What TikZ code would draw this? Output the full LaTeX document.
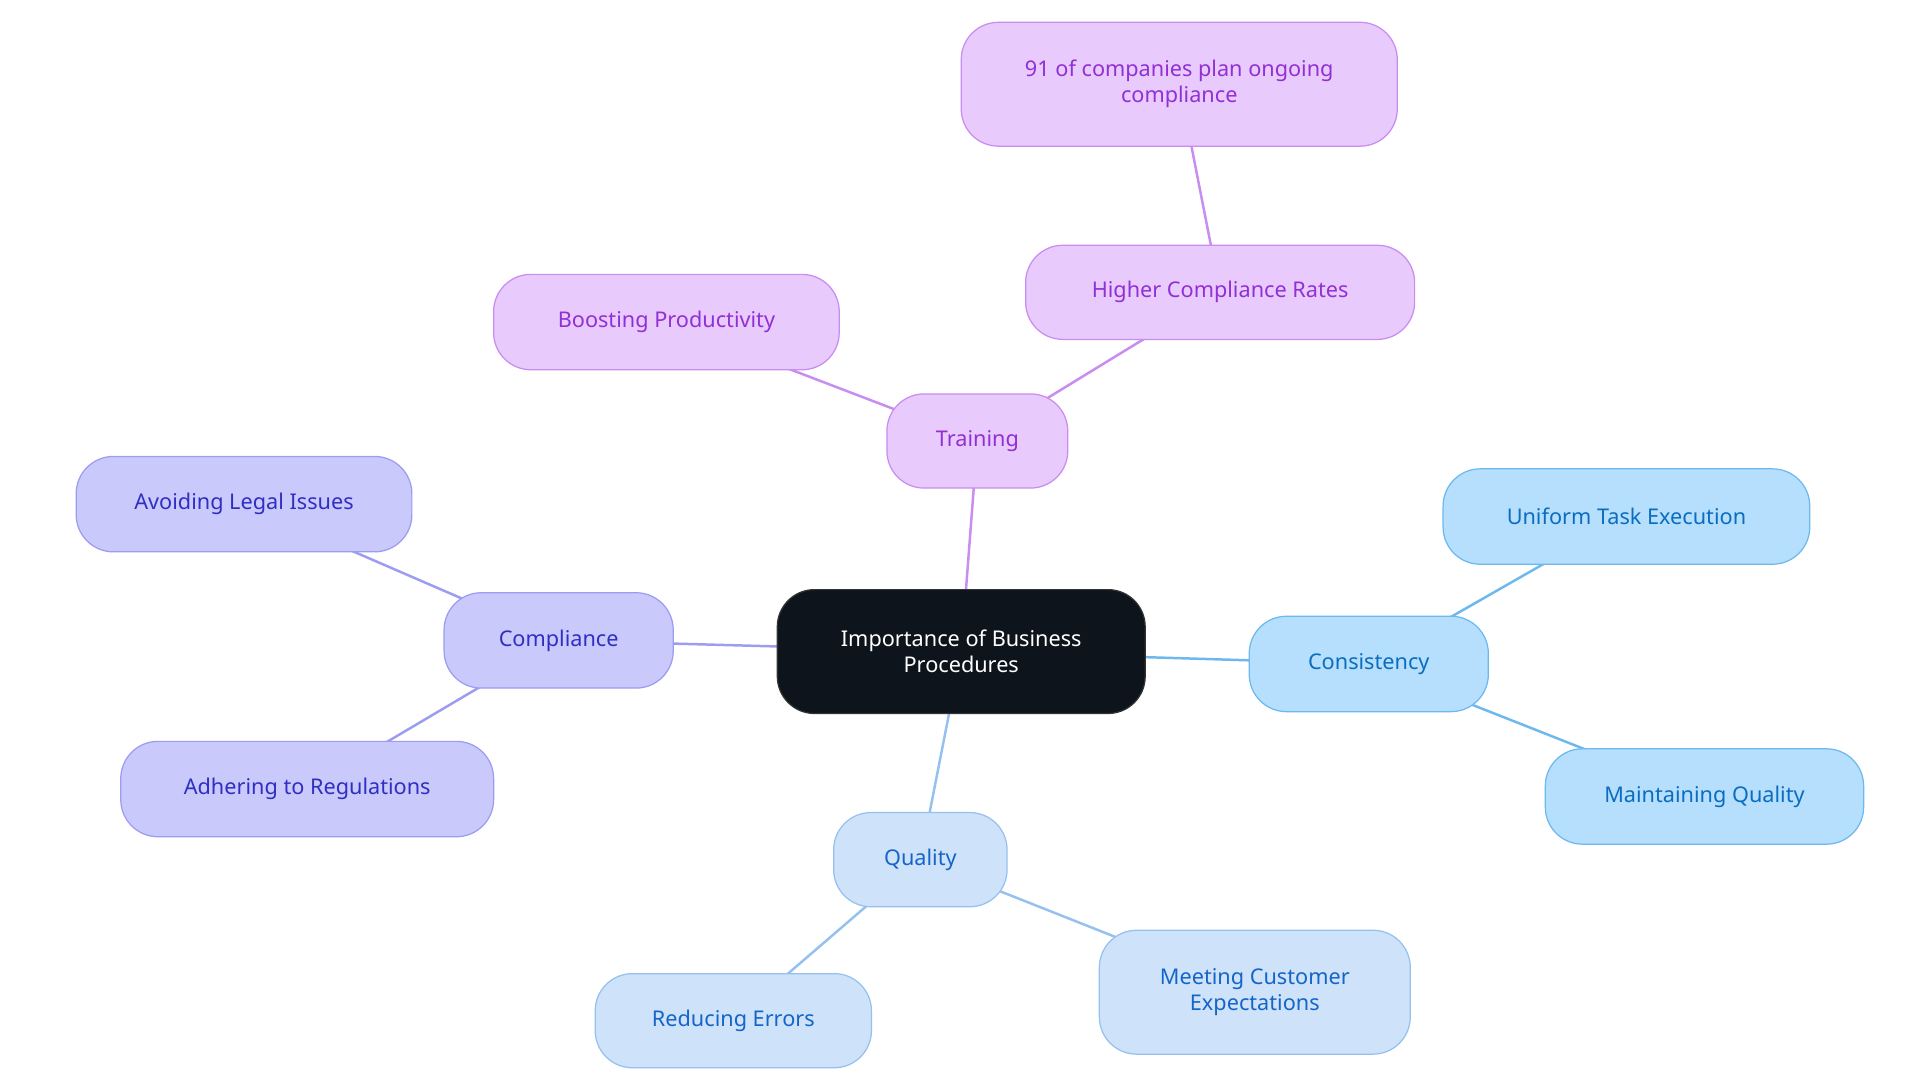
\documentclass[tikz,border=0pt]{standalone}
\usepackage{fontspec}
\setmainfont{Noto Sans}
\usetikzlibrary{backgrounds}
\definecolor{pf}{HTML}{E8CAFD}\definecolor{ps}{HTML}{C98CF0}\definecolor{pt}{HTML}{9130D4}
\definecolor{cf}{HTML}{C9C9FC}\definecolor{cs}{HTML}{9C9CF0}\definecolor{ct}{HTML}{2F2FC4}
\definecolor{sf}{HTML}{B5DFFD}\definecolor{ss}{HTML}{6DB9EE}\definecolor{st}{HTML}{0B6DBF}
\definecolor{qf}{HTML}{CEE2FA}\definecolor{qs}{HTML}{96C1EE}\definecolor{qt}{HTML}{1565C8}
\definecolor{mf}{HTML}{0D141C}
\begin{document}
\begin{tikzpicture}[x=1pt,y=-1pt,
 box/.style={rounded corners=30pt,align=center,font=\fontsize{17.5}{21}\selectfont,inner sep=0pt,line width=1pt},
 P/.style={box,fill=pf,draw=ps,text=pt},
 C/.style={box,fill=cf,draw=cs,text=ct},
 S/.style={box,fill=sf,draw=ss,text=st},
 Q/.style={box,fill=qf,draw=qs,text=qt},
 e/.style={line width=2pt}]
\useasboundingbox (0,0) rectangle (1550,874);
\node[box,fill=mf,draw=black!80,text=white,minimum width=297pt,minimum height=100pt] (m) at (776,526) {Importance of Business\\Procedures};
\node[P,minimum width=146pt,minimum height=76pt] (t) at (789,356) {Training};
\node[P,minimum width=279pt,minimum height=77pt] (bp) at (538,260) {Boosting Productivity};
\node[P,minimum width=314pt,minimum height=76pt] (hc) at (985,236) {Higher Compliance Rates};
\node[P,minimum width=352pt,minimum height=100pt] (n91) at (952,68) {91 of companies plan ongoing\\compliance};
\node[C,minimum width=185pt,minimum height=77pt] (c) at (451,517) {Compliance};
\node[C,minimum width=271pt,minimum height=77pt] (al) at (197,407) {Avoiding Legal Issues};
\node[C,minimum width=301pt,minimum height=77pt] (ar) at (248,637) {Adhering to Regulations};
\node[S,minimum width=193pt,minimum height=77pt] (s) at (1105,536) {Consistency};
\node[S,minimum width=296pt,minimum height=77pt] (u) at (1313,417) {Uniform Task Execution};
\node[S,minimum width=257pt,minimum height=77pt] (mq) at (1376,643) {Maintaining Quality};
\node[Q,minimum width=140pt,minimum height=76pt] (q) at (743,694) {Quality};
\node[Q,minimum width=223pt,minimum height=76pt] (re) at (592,824) {Reducing Errors};
\node[Q,minimum width=251pt,minimum height=100pt] (mc) at (1013,801) {Meeting Customer\\Expectations};
\begin{scope}[on background layer]
\draw[e,ps] (m.center)--(t.center) (t.center)--(bp.center) (t.center)--(hc.center) (hc.center)--(n91.center);
\draw[e,cs] (m.center)--(c.center) (c.center)--(al.center) (c.center)--(ar.center);
\draw[e,ss] (m.center)--(s.center) (s.center)--(u.center) (s.center)--(mq.center);
\draw[e,qs] (m.center)--(q.center) (q.center)--(re.center) (q.center)--(mc.center);
\end{scope}
\end{tikzpicture}
\end{document}
